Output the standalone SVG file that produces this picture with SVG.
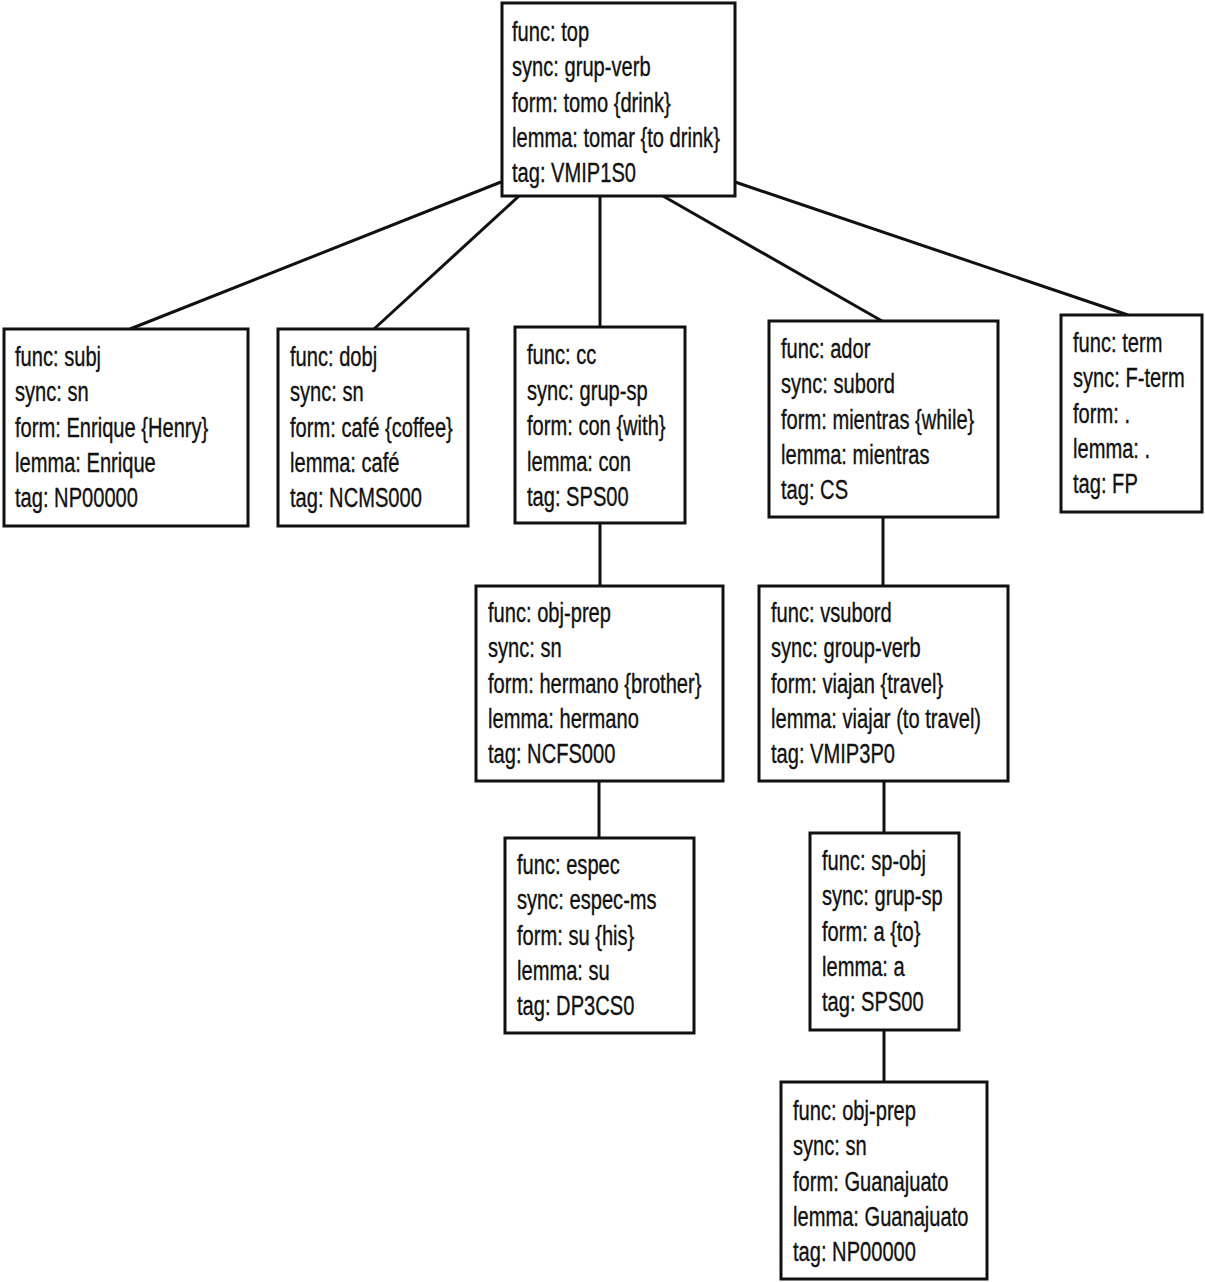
<svg xmlns="http://www.w3.org/2000/svg" width="1205" height="1282" viewBox="0 0 1205 1282">
<style>
.box{fill:#fff;stroke:#111;stroke-width:3}
.edge{stroke:#111;stroke-width:3;fill:none}
text{font-family:"Liberation Sans",Arial,sans-serif;font-size:27px;fill:#111;stroke:#111;stroke-width:0.35}
</style>
<rect width="1205" height="1282" fill="#fff"/>
<g id="connectors">
<line class="edge" x1="501" y1="182" x2="130" y2="329"/>
<line class="edge" x1="519" y1="196" x2="374" y2="329"/>
<line class="edge" x1="600" y1="196" x2="600" y2="327"/>
<line class="edge" x1="663" y1="196" x2="882" y2="321"/>
<line class="edge" x1="735" y1="182" x2="1128" y2="315"/>
<line class="edge" x1="600" y1="523" x2="600" y2="586"/>
<line class="edge" x1="883" y1="517" x2="883" y2="586"/>
<line class="edge" x1="599" y1="781" x2="599" y2="838"/>
<line class="edge" x1="884" y1="781" x2="884" y2="833"/>
<line class="edge" x1="884" y1="1030" x2="884" y2="1082"/>
</g>
<g id="node-top">
<rect class="box" x="502" y="3" width="233" height="193"/>
<g transform="translate(512,0) scale(0.745,1)">
<text x="0" y="41">func: top</text>
<text x="0" y="76">sync: grup-verb</text>
<text x="0" y="112">form: tomo {drink}</text>
<text x="0" y="147">lemma: tomar {to drink}</text>
<text x="0" y="182">tag: VMIP1S0</text>
</g>
</g>
<g id="node-subj">
<rect class="box" x="4" y="329" width="244" height="197"/>
<g transform="translate(15,0) scale(0.745,1)">
<text x="0" y="366">func: subj</text>
<text x="0" y="401">sync: sn</text>
<text x="0" y="437">form: Enrique {Henry}</text>
<text x="0" y="472">lemma: Enrique</text>
<text x="0" y="507">tag: NP00000</text>
</g>
</g>
<g id="node-dobj">
<rect class="box" x="278" y="329" width="190" height="197"/>
<g transform="translate(290,0) scale(0.745,1)">
<text x="0" y="366">func: dobj</text>
<text x="0" y="401">sync: sn</text>
<text x="0" y="437">form: café {coffee}</text>
<text x="0" y="472">lemma: café</text>
<text x="0" y="507">tag: NCMS000</text>
</g>
</g>
<g id="node-cc">
<rect class="box" x="515" y="327" width="170" height="196"/>
<g transform="translate(527,0) scale(0.745,1)">
<text x="0" y="364">func: cc</text>
<text x="0" y="400">sync: grup-sp</text>
<text x="0" y="435">form: con {with}</text>
<text x="0" y="471">lemma: con</text>
<text x="0" y="506">tag: SPS00</text>
</g>
</g>
<g id="node-ador">
<rect class="box" x="769" y="321" width="229" height="196"/>
<g transform="translate(781,0) scale(0.745,1)">
<text x="0" y="358">func: ador</text>
<text x="0" y="393">sync: subord</text>
<text x="0" y="429">form: mientras {while}</text>
<text x="0" y="464">lemma: mientras</text>
<text x="0" y="499">tag: CS</text>
</g>
</g>
<g id="node-term">
<rect class="box" x="1061" y="315" width="141" height="197"/>
<g transform="translate(1073,0) scale(0.745,1)">
<text x="0" y="352">func: term</text>
<text x="0" y="387">sync: F-term</text>
<text x="0" y="423">form: .</text>
<text x="0" y="458">lemma: .</text>
<text x="0" y="493">tag: FP</text>
</g>
</g>
<g id="node-objprep1">
<rect class="box" x="476" y="586" width="247" height="195"/>
<g transform="translate(488,0) scale(0.745,1)">
<text x="0" y="622">func: obj-prep</text>
<text x="0" y="657">sync: sn</text>
<text x="0" y="693">form: hermano {brother}</text>
<text x="0" y="728">lemma: hermano</text>
<text x="0" y="763">tag: NCFS000</text>
</g>
</g>
<g id="node-vsubord">
<rect class="box" x="759" y="586" width="249" height="195"/>
<g transform="translate(771,0) scale(0.745,1)">
<text x="0" y="622">func: vsubord</text>
<text x="0" y="657">sync: group-verb</text>
<text x="0" y="693">form: viajan {travel}</text>
<text x="0" y="728">lemma: viajar (to travel)</text>
<text x="0" y="763">tag: VMIP3P0</text>
</g>
</g>
<g id="node-espec">
<rect class="box" x="505" y="838" width="189" height="195"/>
<g transform="translate(517,0) scale(0.745,1)">
<text x="0" y="874">func: espec</text>
<text x="0" y="909">sync: espec-ms</text>
<text x="0" y="945">form: su {his}</text>
<text x="0" y="980">lemma: su</text>
<text x="0" y="1015">tag: DP3CS0</text>
</g>
</g>
<g id="node-spobj">
<rect class="box" x="810" y="833" width="149" height="197"/>
<g transform="translate(822,0) scale(0.745,1)">
<text x="0" y="870">func: sp-obj</text>
<text x="0" y="905">sync: grup-sp</text>
<text x="0" y="941">form: a {to}</text>
<text x="0" y="976">lemma: a</text>
<text x="0" y="1011">tag: SPS00</text>
</g>
</g>
<g id="node-objprep2">
<rect class="box" x="781" y="1082" width="206" height="197"/>
<g transform="translate(793,0) scale(0.745,1)">
<text x="0" y="1120">func: obj-prep</text>
<text x="0" y="1155">sync: sn</text>
<text x="0" y="1191">form: Guanajuato</text>
<text x="0" y="1226">lemma: Guanajuato</text>
<text x="0" y="1261">tag: NP00000</text>
</g>
</g>
</svg>
